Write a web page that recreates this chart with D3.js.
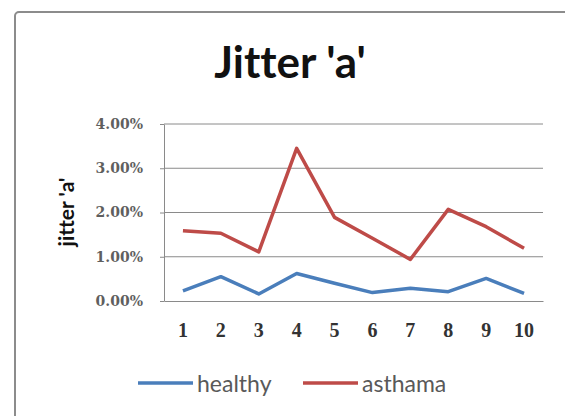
<!DOCTYPE html>
<html>
<head>
<meta charset="utf-8">
<script src="https://cdn.jsdelivr.net/npm/d3@7"></script>
<style>
  body { margin: 0; background: #fff; }
  text { font-variant-ligatures: none; font-feature-settings: "liga" 0; }
</style>
</head>
<body>
<div id="chart-area"></div>
<script>

// data
var categories = ["1", "2", "3", "4", "5", "6", "7", "8", "9", "10"];
var healthy = [0.23, 0.55, 0.16, 0.62, 0.40, 0.19, 0.29, 0.21, 0.51, 0.17];
var asthama = [1.59, 1.53, 1.11, 3.45, 1.89, 1.42, 0.94, 2.07, 1.68, 1.19];
var yTicks = [0, 1, 2, 3, 4];
var seriesNames = ["healthy", "asthama"];
var seriesColors = ["#4a7ebb", "#be4b48"];

var W = 565, H = 416;
var margin = {top: 124, right: 22, bottom: 115, left: 164};
var width = W - margin.left - margin.right,
    height = H - margin.top - margin.bottom;

var root = d3.select("#chart-area").append("svg")
    .attr("width", W)
    .attr("height", H);

// outer chart frame (runs off the right and bottom edge)
root.append("rect")
    .attr("x", 15).attr("y", 12)
    .attr("width", 600).attr("height", 450)
    .attr("rx", 4)
    .attr("fill", "#fff")
    .attr("stroke", "#8c8c8c")
    .attr("stroke-width", 2);

// title
root.append("text")
    .attr("x", 290).attr("y", 78)
    .attr("text-anchor", "middle")
    .attr("font-family", "Lato, 'Open Sans', sans-serif")
    .attr("font-weight", "bold")
    .attr("font-size", 44)
    .attr("fill", "#111")
    .text("Jitter 'a'");

var svg = root.append("g")
    .attr("transform", "translate(" + margin.left + "," + margin.top + ")");

// Scales
var x = d3.scaleBand()
    .domain(categories)
    .range([0, width]);

var y = d3.scaleLinear()
    .domain([0, 4])
    .range([height, 0]);

// gridlines
svg.selectAll(".grid")
    .data(yTicks.slice(1))
    .enter().append("line")
    .attr("class", "grid")
    .attr("x1", 0).attr("x2", width)
    .attr("y1", function(d) { return y(d); })
    .attr("y2", function(d) { return y(d); })
    .attr("stroke", "#8a8a8a")
    .attr("stroke-width", 1);

// y axis
var yAxis = d3.axisLeft(y)
    .tickValues(yTicks)
    .tickSizeInner(4)
    .tickSizeOuter(0)
    .tickPadding(17)
    .tickFormat(function(d) { return d.toFixed(2) + "%"; });

var yAxisGroup = svg.append("g")
    .attr("class", "y-axis axis")
    .call(yAxis);
yAxisGroup.selectAll(".domain, line").attr("stroke", "#8a8a8a");
yAxisGroup.selectAll("text")
    .attr("font-family", "'DejaVu Serif', 'Liberation Serif', serif")
    .attr("font-weight", "bold")
    .attr("font-size", 14)
    .attr("fill", "#5f5f5f");

// x axis
var xAxis = d3.axisBottom(x)
    .tickSize(0)
    .tickPadding(22);

var xAxisGroup = svg.append("g")
    .attr("class", "x-axis axis")
    .attr("transform", "translate(0," + height + ")")
    .call(xAxis);
xAxisGroup.select(".domain").attr("stroke", "#8a8a8a");
xAxisGroup.selectAll("text")
    .attr("font-family", "'Liberation Serif', serif")
    .attr("font-weight", "bold")
    .attr("font-size", 20)
    .attr("fill", "#333");

// y axis title
svg.append("text")
    .attr("transform", "translate(" + (74 - margin.left) + "," + (212 - margin.top) + ") rotate(-90)")
    .attr("text-anchor", "middle")
    .attr("font-family", "Lato, 'Open Sans', sans-serif")
    .attr("font-weight", "bold")
    .attr("font-size", 21)
    .attr("fill", "#111")
    .text("jitter 'a'");

// lines
var line = d3.line()
    .x(function(d, i) { return x(categories[i]) + x.bandwidth() / 2; })
    .y(function(d) { return y(d); });

[healthy, asthama].forEach(function(series, i) {
  svg.append("path")
      .datum(series)
      .attr("fill", "none")
      .attr("stroke", seriesColors[i])
      .attr("stroke-width", 3.5)
      .attr("stroke-linejoin", "round")
      .attr("d", line);
});

// legend
var legendX = [138, 303];
var legend = root.selectAll(".legend")
    .data(seriesNames)
    .enter().append("g")
    .attr("class", "legend")
    .attr("transform", function(d, i) { return "translate(" + legendX[i] + ",383)"; });

legend.append("line")
    .attr("x1", 0).attr("x2", 55)
    .attr("stroke", function(d, i) { return seriesColors[i]; })
    .attr("stroke-width", 3.5);

legend.append("text")
    .attr("x", 59).attr("y", 9)
    .attr("font-family", "Lato, 'Open Sans', sans-serif")
    .attr("font-size", 23)
    .attr("fill", "#595959")
    .text(function(d) { return d; });

</script>
</body>
</html>
